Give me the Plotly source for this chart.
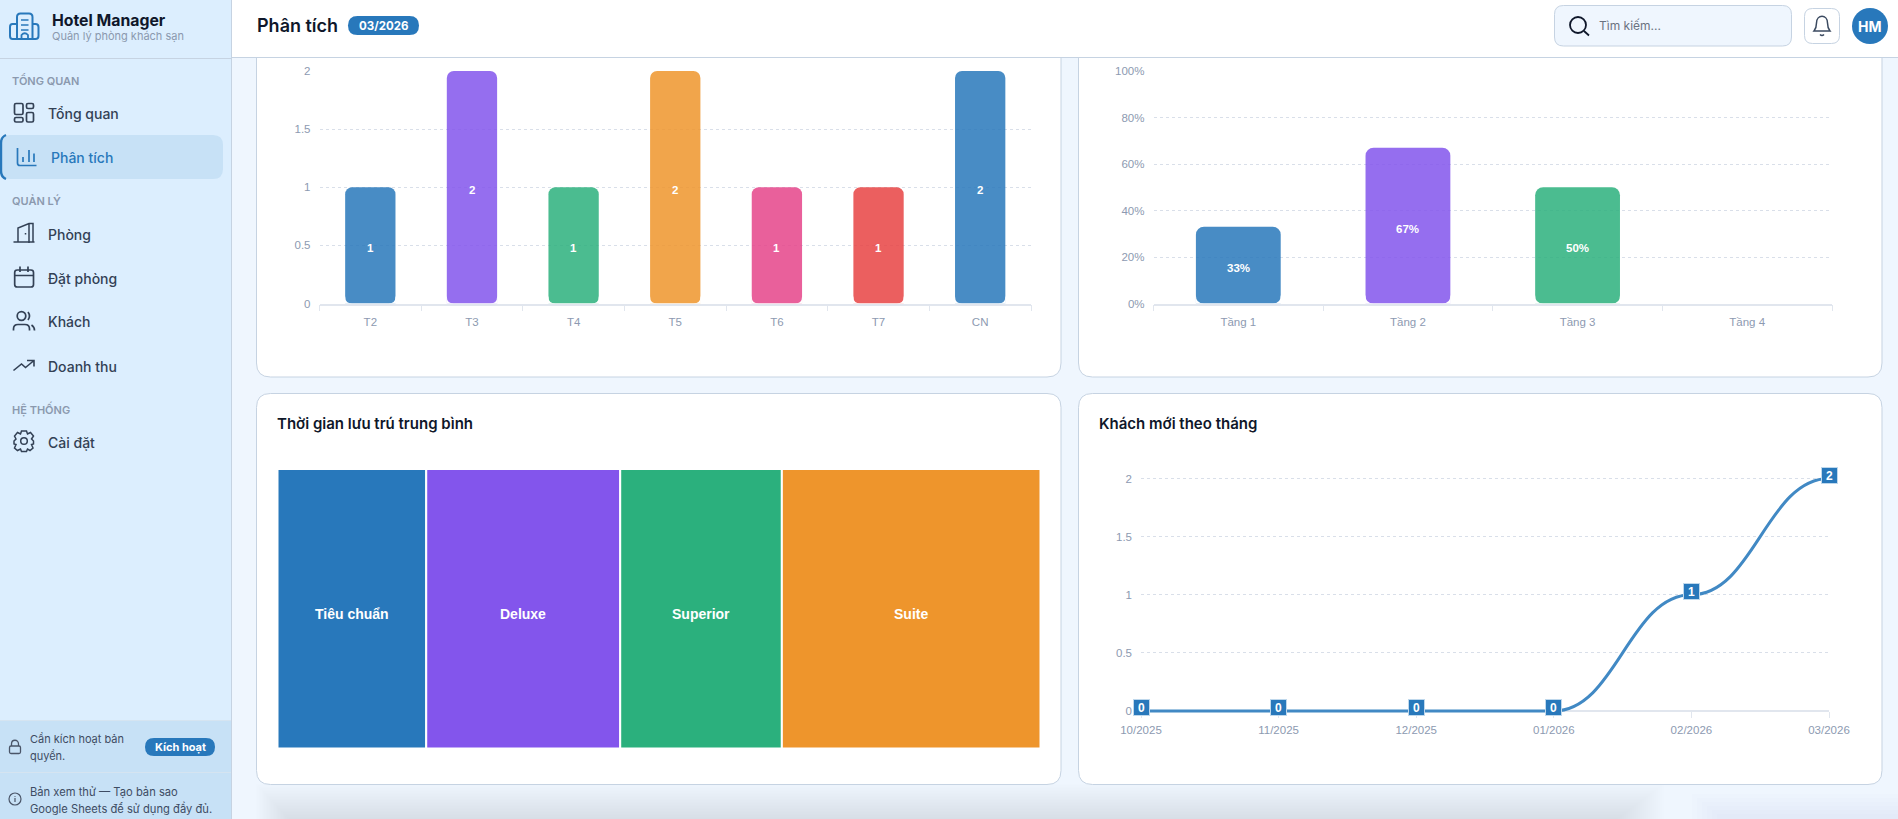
import re
import plotly.graph_objects as go

W = 1898
H = 819

day_labels = ["T2", "T3", "T4", "T5", "T6", "T7", "CN"]
day_values = [1, 2, 1, 2, 1, 1, 2]
day_colors = ["#2878BB", "#8355EC", "#2BB07D", "#EE952C", "#E5448A", "#E84343", "#2878BB"]

floor_labels = ["Tầng 1", "Tầng 2", "Tầng 3", "Tầng 4"]
floor_values = [33, 67, 50, 0]
floor_colors = ["#2878BB", "#8355EC", "#2BB07D", "#EE952C"]
floor_ticks = [0, 20, 40, 60, 80, 100]

stay_labels = ["Tiêu chuẩn", "Deluxe", "Superior", "Suite"]
stay_values = [2.3, 3.0, 2.5, 4.0]
stay_colors = ["#2878BB", "#8355EC", "#2BB07D", "#EE952C"]

month_labels = ["10/2025", "11/2025", "12/2025", "01/2026", "02/2026", "03/2026"]
new_guests = [0, 0, 0, 0, 1, 2]

half_ticks = [0, 0.5, 1, 1.5, 2]

UI = "Inter"
CHART = "Liberation Sans"
DARK = "#0F172A"
MID = "#334155"
MUTED = "#8B99AE"
BLUE = "#2878BB"
SIDE = "#DCEEFE"
SIDE2 = "#C7E1F6"
PAGE = "#EFF6FE"
BORDER = "#C6D3E2"
GRID = "#D9DFE9"
AXIS = "#E1E6EE"
TICK = "#8D9AB1"

DAY_BOX = (319.5, 1031)
FLOOR_BOX = (1153.5, 1832)
STAY_BOX = (277.5, 1040.5, 469, 748.5)
BAR_BASE = 303.5
BAR_TOP = 71
LINE_BASE = 711
LINE_TOP = 478.5
LINE_PAD = 0.1  # room around the y range so the curve is not clipped on the axis
CURVE_PULL = 0.45


def fx(x):
    return x / W


def fy(y):
    return 1 - y / H


def path(d):
    # d is written in screen pixels, converted to paper fractions here
    return re.sub(r"(-?[\d.]+)[ ,](-?[\d.]+)",
                  lambda m: f"{fx(float(m[1])):.5f},{fy(float(m[2])):.5f}", d)


shapes = []
notes = []


def add_path(d, fill=None, line=None, lw=1, layer="below"):
    shapes.append(dict(type="path", xref="paper", yref="paper", path=path(d), layer=layer,
                       fillcolor=fill or "rgba(0,0,0,0)",
                       line=dict(color=line or "rgba(0,0,0,0)", width=lw if line else 0)))


def rrect(x0, y0, x1, y1, r, fill=None, line=None, lw=1, layer="below"):
    d = (f"M {x0+r} {y0} L {x1-r} {y0} Q {x1} {y0} {x1} {y0+r} L {x1} {y1-r} Q {x1} {y1} {x1-r} {y1} "
         f"L {x0+r} {y1} Q {x0} {y1} {x0} {y1-r} L {x0} {y0+r} Q {x0} {y0} {x0+r} {y0} Z")
    add_path(d, fill, line, lw, layer)


def circle(cx, cy, r, fill=None, line=None, lw=1, layer="below"):
    shapes.append(dict(type="circle", xref="paper", yref="paper", layer=layer,
                       x0=fx(cx - r), x1=fx(cx + r), y0=fy(cy - r), y1=fy(cy + r),
                       fillcolor=fill or "rgba(0,0,0,0)",
                       line=dict(color=line or "rgba(0,0,0,0)", width=lw if line else 0)))


def label(x, y, txt, size=13, color=MID, weight=400, anchor="left", family=UI):
    notes.append(dict(xref="paper", yref="paper", x=fx(x), y=fy(y), text=txt, showarrow=False,
                      xanchor=anchor, yanchor="middle", borderpad=0,
                      font=dict(family=family, size=size, color=color, weight=weight)))


def round_bar_feet(box, count, bar_share, r):
    # plotly only rounds the far end of a bar, so the feet get small white corners
    step = (box[1] - box[0]) / count
    for i in range(count):
        mid = box[0] + (i + 0.5) * step
        left = mid - step * bar_share / 2
        right = mid + step * bar_share / 2
        add_path(f"M {left-0.5} {BAR_BASE-r} L {left} {BAR_BASE-r} Q {left} {BAR_BASE} {left+r} {BAR_BASE} L {left-0.5} {BAR_BASE} Z",
                 fill="white", layer="above")
        add_path(f"M {right+0.5} {BAR_BASE-r} L {right} {BAR_BASE-r} Q {right} {BAR_BASE} {right-r} {BAR_BASE} L {right+0.5} {BAR_BASE} Z",
                 fill="white", layer="above")


def bar_labels(xref, yref, cats, vals, texts):
    for c, v, t in zip(cats, vals, texts):
        if not v:
            continue
        notes.append(dict(xref=xref, yref=yref, x=c, y=v / 2, text=t, showarrow=False, yshift=-3,
                          font=dict(family=CHART, size=11.5, color="white", weight=700)))


# page background, shadow at the bottom, cards
rrect(0, 0, W, H, 0, fill=PAGE)
for i in range(24):
    rrect(256 + i * 1.4, 784 + i * 1.5, 1664 - i * 2, H, 0, fill="rgba(90,112,128,0.0062)")
for i in range(6):
    rrect(1692 + i * 5, 794 + i * 4, W, H, 0, fill="rgba(90,112,128,0.012)")

rrect(256.5, 30, 1061, 377, 14, fill="white", line=BORDER)
rrect(1078.5, 30, 1882, 377, 14, fill="white", line=BORDER)
rrect(256.5, 393.5, 1061, 784.5, 14, fill="white", line=BORDER)
rrect(1078.5, 393.5, 1882, 784.5, 14, fill="white", line=BORDER)
label(276, 423.5, "Thời gian lưu trú trung bình", 15, DARK, 600)
label(1098, 423.5, "Khách mới theo tháng", 15, DARK, 600)

round_bar_feet(DAY_BOX, len(day_labels), 0.495, 7)
round_bar_feet(FLOOR_BOX, len(floor_labels), 0.5, 8)

# top bar
rrect(232, 0, W, 57.5, 0, fill="white", layer="above")
add_path("M 232 57.5 L 1898 57.5", line=BORDER, lw=1, layer="above")
label(256, 25, "Phân tích", 18, DARK, 600)
rrect(348, 16, 419, 35, 9.5, fill=BLUE, layer="above")
label(383.5, 25.5, "03/2026", 11.5, "white", 700, "center")
rrect(1554.5, 5.5, 1791.5, 46, 9, fill=PAGE, line=BORDER, layer="above")
circle(1578, 25, 8, line=DARK, lw=1.8, layer="above")
add_path("M 1584 31 L 1589 35.5", line=DARK, lw=1.8, layer="above")
label(1598, 25, "Tìm kiếm...", 12, "#6B7280")
rrect(1804.5, 8.5, 1839.5, 43.5, 8, fill="white", line=BORDER, layer="above")
add_path("M 1814 31 Q 1816.5 28 1816.5 23 C 1816.5 14 1827.5 14 1827.5 23 Q 1827.5 28 1830 31 Z",
         line="#3B4A60", lw=1.5, layer="above")
add_path("M 1820 34.5 Q 1822 36.5 1824 34.5", line="#3B4A60", lw=1.5, layer="above")
circle(1870, 26, 18, fill=BLUE, layer="above")
label(1870, 26, "HM", 14, "white", 700, "center")

# sidebar
rrect(0, 0, 231.5, H, 0, fill=SIDE, layer="above")
add_path("M 231.5 0 L 231.5 819", line=BORDER, lw=1, layer="above")
add_path("M 0 58.5 L 231.5 58.5", line=BORDER, lw=1, layer="above")

add_path("M 17 39 L 17 17 Q 17 13.5 20.5 13.5 L 29 13.5 Q 32.5 13.5 32.5 17 L 32.5 39", line=BLUE, lw=2, layer="above")
add_path("M 17 24 L 12.5 24 Q 10 24 10 27 L 10 36 Q 10 39 12.5 39 L 35.5 39 Q 38.5 39 38.5 36 L 38.5 27 Q 38.5 24 35.5 24 L 32.5 24",
         line=BLUE, lw=2, layer="above")
add_path("M 21 20 L 28.5 20 M 21 25 L 28.5 25 M 21 30 L 28.5 30", line=BLUE, lw=1.6, layer="above")
add_path("M 21.5 39 L 21.5 35 Q 24.7 31.5 28 35 L 28 39", line=BLUE, lw=1.8, layer="above")
label(51, 20, "Hotel Manager", 15.8, DARK, 700)
label(51, 36, "Quản lý phòng khách sạn", 11, MUTED)

label(10.5, 81, "TỔNG QUAN", 11, MUTED, 600)
label(10.5, 201, "QUẢN LÝ", 11, MUTED, 600)
label(10.5, 409, "HỆ THỐNG", 11, MUTED, 600)

rrect(0, 135, 223, 179, 10, fill=SIDE2, layer="above")
add_path("M 6 135 Q 1 137 1 143 L 1 171 Q 1 177 6 179", line=BLUE, lw=2.4, layer="above")

nav_items = [("Tổng quan", 46.5, 114, MID), ("Phân tích", 49.5, 158, BLUE), ("Phòng", 46.5, 234, MID),
             ("Đặt phòng", 46.5, 278, MID), ("Khách", 46.5, 322, MID), ("Doanh thu", 46.5, 366, MID),
             ("Cài đặt", 46.5, 442, MID)]
for name, x, y, col in nav_items:
    label(x, y, name, 14, col, 500)

ICON = "#334155"
rrect(14.5, 103.5, 23, 114.5, 1.5, line=ICON, lw=1.7, layer="above")
rrect(26.5, 103.5, 33.5, 108.5, 1.5, line=ICON, lw=1.7, layer="above")
rrect(14.5, 117.5, 23, 122, 1.5, line=ICON, lw=1.7, layer="above")
rrect(26.5, 112.5, 33.5, 122, 1.5, line=ICON, lw=1.7, layer="above")
add_path("M 17.5 148 L 17.5 163 Q 17.5 165.5 20 165.5 L 36.5 165.5", line=BLUE, lw=1.7, layer="above")
add_path("M 23 157 L 23 162 M 29 150 L 29 162 M 34 153.5 L 34 162", line=BLUE, lw=1.7, layer="above")
add_path("M 13.5 242 L 34.5 242 M 18 242 L 18 228 L 29 223.5 L 33 223.5 L 33 242 M 29 223.5 L 29 243 M 25.5 233 L 25.5 234.5",
         line=ICON, lw=1.5, layer="above")
rrect(14.7, 270, 33.5, 287, 2.5, line=ICON, lw=1.7, layer="above")
add_path("M 14.7 275.5 L 33.5 275.5 M 20 266.5 L 20 272 M 28 266.5 L 28 272", line=ICON, lw=1.7, layer="above")
circle(21.5, 316, 4.3, line=ICON, lw=1.7, layer="above")
add_path("M 13.5 330.5 L 13.5 329 Q 13.5 324.5 18 324.5 L 25 324.5 Q 29.5 324.5 29.5 329 L 29.5 330.5",
         line=ICON, lw=1.7, layer="above")
add_path("M 28 312 Q 31 316 28 320 M 31.5 325 Q 34.5 327 34.5 330.5", line=ICON, lw=1.7, layer="above")
add_path("M 13.5 370.5 L 21.5 364 L 25.5 367.5 L 34 360.5 M 27 360.5 L 34 360.5 L 34 366.5", line=ICON, lw=1.6, layer="above")
add_path("M 21.5 431 L 26.5 431 L 27.5 434 L 30.5 432.5 L 33.5 436 L 31.5 439 L 33.5 441 L 33.5 444 L 31.5 444.5 "
         "L 33 448 L 30 450.5 L 27.5 449 L 26.5 451.5 L 21.5 451.5 L 20.5 449 L 17.5 450.5 L 14.5 448 L 16 444.5 "
         "L 14 444 L 14 441 L 16 439 L 14.5 436 L 17.5 432.5 L 20.5 434 Z", line=ICON, lw=1.5, layer="above")
circle(24, 441, 3.3, line=ICON, lw=1.5, layer="above")

# licence notes at the bottom of the sidebar
rrect(0, 720, 231, H, 0, fill=SIDE2, layer="above")
add_path("M 0 720.5 L 231 720.5", line="#D5E4F1", lw=1, layer="above")
add_path("M 0 772.5 L 231 772.5", line="#D5E4F1", lw=1, layer="above")
rrect(9.5, 746, 20.5, 753.5, 1.5, line="#4A5568", lw=1.3, layer="above")
add_path("M 11.5 746 L 11.5 744 C 11.5 739 18.5 739 18.5 744 L 18.5 746", line="#4A5568", lw=1.3, layer="above")
label(28.8, 739, "Cần kích hoạt bản", 11, "#3E4C63")
label(28.8, 756, "quyền.", 11, "#3E4C63")
rrect(145, 738, 215, 756, 9, fill=BLUE, layer="above")
label(180, 747, "Kích hoạt", 11, "white", 700, "center")
circle(15, 799, 6, line="#4A5568", lw=1.2, layer="above")
add_path("M 15 798 L 15 802 M 15 796 L 15 796.8", line="#4A5568", lw=1.2, layer="above")
label(28.8, 792, "Bản xem thử — Tạo bản sao", 11.2, "#3E4C63")
label(28.8, 808, "Google Sheets để sử dụng đầy đủ.", 11.2, "#3E4C63")

fig = go.Figure()

# weekly bookings
fig.add_trace(go.Bar(x=day_labels, y=day_values, xaxis="x", yaxis="y",
                     marker=dict(color=day_colors, opacity=0.85, cornerradius=7, line=dict(width=0)),
                     width=0.495, hoverinfo="x+y"))
bar_labels("x", "y", day_labels, day_values, [str(v) for v in day_values])

# occupancy per floor
fig.add_trace(go.Bar(x=floor_labels, y=floor_values, xaxis="x2", yaxis="y2",
                     marker=dict(color=floor_colors, opacity=0.85, cornerradius=8, line=dict(width=0)),
                     width=0.5, hoverinfo="x+y"))
bar_labels("x2", "y2", floor_labels, floor_values, [f"{v}%" for v in floor_values])

# average stay
fig.add_trace(go.Treemap(labels=stay_labels, parents=[""] * len(stay_labels), values=stay_values,
                         sort=False, textinfo="none",
                         domain=dict(x=[fx(STAY_BOX[0]), fx(STAY_BOX[1])], y=[fy(STAY_BOX[3]), fy(STAY_BOX[2])]),
                         marker=dict(colors=stay_colors, cornerradius=3, pad=dict(t=0, b=0, l=0, r=0),
                                     line=dict(color="white", width=2)),
                         tiling=dict(packing="dice", pad=0),
                         pathbar=dict(visible=False), root=dict(color="white")))
# treemap text cannot be nudged, its labels sit a little below the middle of each cell
done = 0
for name, v in zip(stay_labels, stay_values):
    cell_mid = (done + v / 2) / sum(stay_values)
    done += v
    label(STAY_BOX[0] + cell_mid * (STAY_BOX[1] - STAY_BOX[0]), (STAY_BOX[2] + STAY_BOX[3]) / 2 + 5,
          name, 14, "white", 700, "center", CHART)

# new guests per month: points on the trace, curve as an axis-referenced path
fig.add_trace(go.Scatter(x=month_labels, y=new_guests, xaxis="x3", yaxis="y3", mode="markers",
                         marker=dict(symbol="square", size=1, color=BLUE),
                         hoverinfo="x+y", cliponaxis=False))
curve = f"M 0 {new_guests[0]}"
for i in range(1, len(new_guests)):
    c1 = i - 1 + CURVE_PULL
    c2 = i - CURVE_PULL
    curve += f" C {c1} {new_guests[i-1]} {c2} {new_guests[i]} {i} {new_guests[i]}"
shapes.append(dict(type="path", xref="x3", yref="y3", path=curve, layer="above",
                   line=dict(color="#4189C4", width=3), fillcolor="rgba(0,0,0,0)"))
for m, v in zip(month_labels, new_guests):
    notes.append(dict(xref="x3", yref="y3", x=m, y=v, text=f"<b>{v}</b>", showarrow=False, yshift=3,
                      bgcolor=BLUE, bordercolor="#BFD8EC", borderwidth=1, borderpad=1, width=13, height=13,
                      font=dict(family=CHART, size=12, color="white")))


def xaxis(dom, **kw):
    return dict(domain=[fx(dom[0]), fx(dom[1])], type="category", showgrid=False, zeroline=False,
                showline=True, linecolor=AXIS, linewidth=1.5, ticks="outside", ticklen=6, tickwidth=1,
                tickcolor=AXIS, tickfont=dict(family=CHART, size=11.5, color=TICK), fixedrange=True, **kw)


def yaxis(anchor, y0, y1, **kw):
    return dict(anchor=anchor, domain=[fy(y0), fy(y1)], showgrid=True, gridcolor=GRID, griddash="3px,3px",
                gridwidth=1, zeroline=False, showline=False, ticks="", ticklabelstandoff=8,
                tickfont=dict(family=CHART, size=11.5, color=TICK), fixedrange=True, **kw)


line_unit = (LINE_BASE - LINE_TOP) / 2

fig.update_layout(
    width=W, height=H, margin=dict(l=0, r=0, t=0, b=0, autoexpand=False), autosize=False,
    paper_bgcolor=PAGE, plot_bgcolor="rgba(0,0,0,0)", showlegend=False, barmode="overlay",
    xaxis=xaxis(DAY_BOX, anchor="y", tickson="boundaries", ticklabelstandoff=7),
    yaxis=yaxis("x", BAR_BASE, BAR_TOP, range=[0, 2], tickvals=half_ticks, ticktext=[str(t) for t in half_ticks]),
    xaxis2=xaxis(FLOOR_BOX, anchor="y2", tickson="boundaries", ticklabelstandoff=7),
    yaxis2=yaxis("x2", BAR_BASE, BAR_TOP, range=[0, 100], tickvals=floor_ticks, ticktext=[f"{t}%" for t in floor_ticks]),
    xaxis3=xaxis((1141, 1829), anchor="free", position=fy(LINE_BASE), range=[0, 5], tickson="labels", ticklabelstandoff=2),
    yaxis3=yaxis("x3", LINE_BASE + LINE_PAD * line_unit, LINE_TOP - LINE_PAD * line_unit, range=[-LINE_PAD, 2 + LINE_PAD],
                 tickvals=half_ticks, ticktext=[str(t) for t in half_ticks]),
    shapes=shapes, annotations=notes,
)

fig.write_html("out.html", config=dict(displayModeBar=False),
               post_script="document.body.style.margin='0';document.body.style.overflow='hidden';")
